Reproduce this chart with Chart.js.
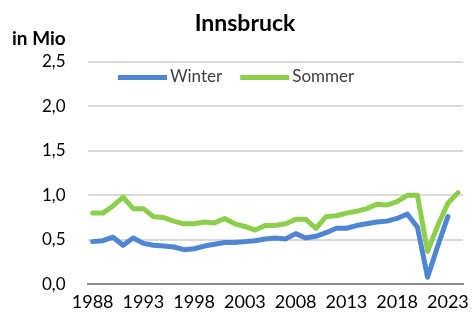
<!DOCTYPE html>
<html>
<head>
<meta charset="utf-8">
<script src="https://cdn.jsdelivr.net/npm/chart.js@4"></script>
<style>
  html, body { margin: 0; padding: 0; background: #fff; }
  #wrap { position: relative; width: 476px; height: 320px; }
</style>
</head>
<body>
<div id="wrap"><canvas id="innsbruckChart"></canvas></div>
<script>
const years = [
  "1988", "1989", "1990", "1991", "1992", "1993", "1994", "1995", "1996", "1997",
  "1998", "1999", "2000", "2001", "2002", "2003", "2004", "2005", "2006", "2007",
  "2008", "2009", "2010", "2011", "2012", "2013", "2014", "2015", "2016", "2017",
  "2018", "2019", "2020", "2021", "2022", "2023", "2024"
];
const yearTicks = ["1988", "1993", "1998", "2003", "2008", "2013", "2018", "2023"];

// Übernachtungen in Mio
const winter = [
  0.48, 0.49, 0.53, 0.44, 0.52, 0.46, 0.44, 0.43, 0.42, 0.39,
  0.40, 0.43, 0.45, 0.47, 0.47, 0.48, 0.49, 0.51, 0.52, 0.51,
  0.57, 0.52, 0.54, 0.58, 0.63, 0.63, 0.66, 0.68, 0.70, 0.71,
  0.74, 0.79, 0.64, 0.08, 0.43, 0.76
];
const sommer = [
  0.80, 0.80, 0.88, 0.98, 0.85, 0.85, 0.76, 0.75, 0.71, 0.68,
  0.68, 0.70, 0.69, 0.74, 0.68, 0.65, 0.61, 0.66, 0.66, 0.68,
  0.73, 0.73, 0.63, 0.76, 0.77, 0.80, 0.82, 0.85, 0.90, 0.89,
  0.93, 1.00, 1.00, 0.37, 0.66, 0.91, 1.03
];

const FONT = "Lato, 'Open Sans', sans-serif";
const fmt = (v) => v.toFixed(1).replace(".", ",");

// legend sitting inside the plot, plus the unit label above the y axis
const overlay = {
  id: "overlay",
  afterDraw(chart) {
    const ctx = chart.ctx;
    const area = chart.chartArea;
    ctx.save();
    ctx.fillStyle = "#000";
    ctx.font = "bold 19px " + FONT;
    ctx.textBaseline = "alphabetic";
    ctx.textAlign = "left";
    ctx.fillText("in Mio", 12, 45);

    ctx.font = "17px " + FONT;
    ctx.textBaseline = "middle";
    let x = 118;
    const y = area.top + 15;
    chart.data.datasets.forEach((ds) => {
      ctx.strokeStyle = ds.borderColor;
      ctx.lineWidth = 5;
      ctx.beginPath();
      ctx.moveTo(x, y + 1);
      ctx.lineTo(x + 49, y + 1);
      ctx.stroke();
      x += 52;
      ctx.fillStyle = "#404040";
      ctx.fillText(ds.label, x, y);
      x += ctx.measureText(ds.label).width + 18;
    });
    ctx.restore();
  },
};

new Chart(document.getElementById("innsbruckChart"), {
  type: "line",
  data: {
    labels: years,
    datasets: [
      {
        label: "Winter",
        data: winter,
        borderColor: "#4e86d4",
        backgroundColor: "#4e86d4",
      },
      {
        label: "Sommer",
        data: sommer,
        borderColor: "#8dcf4c",
        backgroundColor: "#8dcf4c",
      },
    ],
  },
  options: {
    responsive: true,
    maintainAspectRatio: false,
    animation: false,
    layout: { padding: { left: 20, right: 6, top: 2, bottom: 0 } },
    elements: {
      line: { borderWidth: 5, tension: 0, borderJoinStyle: "round", borderCapStyle: "round" },
      point: { radius: 0 },
    },
    plugins: {
      legend: { display: false },
      tooltip: { enabled: false },
      title: {
        display: true,
        text: "Innsbruck",
        color: "#000",
        font: { family: FONT, size: 23, weight: "bold" },
        padding: { top: 8, bottom: 24 },
      },
    },
    scales: {
      x: {
        offset: true,
        grid: { display: false, drawTicks: false },
        border: { display: true, color: "#8c8c8c", width: 2 },
        ticks: {
          autoSkip: false,
          maxRotation: 0,
          padding: 7,
          color: "#000",
          font: { family: FONT, size: 18 },
          callback: function (value) {
            const lab = this.getLabelForValue(value);
            return yearTicks.includes(lab) ? lab : null;
          },
        },
      },
      y: {
        min: 0,
        max: 2.5,
        border: { display: false },
        grid: {
          drawTicks: false,
          color: (c) => (c.tick.value === 0 ? "#8c8c8c" : "#d9d9d9"),
          lineWidth: 2,
        },
        ticks: {
          stepSize: 0.5,
          padding: 22,
          color: "#000",
          font: { family: FONT, size: 17 },
          callback: (v) => fmt(v),
        },
      },
    },
  },
  plugins: [overlay],
});
</script>
</body>
</html>
